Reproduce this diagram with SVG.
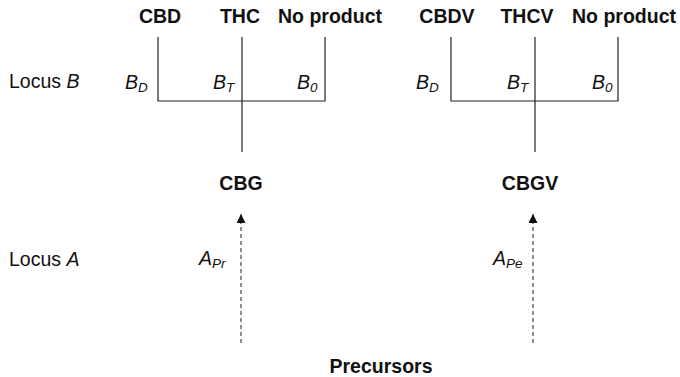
<svg xmlns="http://www.w3.org/2000/svg" width="680" height="377" viewBox="0 0 680 377">
<defs>
<style>
.t{font-family:"Liberation Sans",Arial,sans-serif;font-size:19.5px;fill:#111}
.b{font-weight:bold}
.i{font-style:italic}
.sub{font-size:13.5px;font-style:italic}
.ln{stroke:#222;stroke-width:1.2;fill:none}
.ds{stroke:#444;stroke-width:1.2;stroke-dasharray:4,3;fill:none}
</style>
<marker id="ah" viewBox="0 0 10 10" refX="10" refY="5" markerWidth="10" markerHeight="9" markerUnits="userSpaceOnUse" orient="auto">
<path d="M0,0 L10,5 L0,10 Z" fill="#111"/>
</marker>
</defs>
<rect width="680" height="377" fill="#fff"/>
<g id="labels">
<text class="t" x="9" y="88">Locus <tspan class="i">B</tspan></text>
<text class="t" x="9" y="266">Locus <tspan class="i">A</tspan></text>
</g>
<g id="cbd"><text class="t b" x="160" y="23" text-anchor="middle">CBD</text></g>
<g id="thc"><text class="t b" x="240" y="23" text-anchor="middle">THC</text></g>
<g id="noproduct1"><text class="t b" x="330" y="23" text-anchor="middle">No product</text></g>
<g id="cbdv"><text class="t b" x="447" y="23" text-anchor="middle">CBDV</text></g>
<g id="thcv"><text class="t b" x="527" y="23" text-anchor="middle">THCV</text></g>
<g id="noproduct2"><text class="t b" x="624" y="23" text-anchor="middle">No product</text></g>
<g id="cbg"><text class="t b" x="241" y="190" text-anchor="middle">CBG</text></g>
<g id="cbgv"><text class="t b" x="530" y="190" text-anchor="middle">CBGV</text></g>
<g id="precursors"><text class="t b" x="381" y="373" text-anchor="middle">Precursors</text></g>
<g id="connectors">
<path class="ln" d="M158,37 V101 H325 V37 M242,37 V152"/>
<path class="ln" d="M451,37 V101 H618 V37 M535,37 V152"/>
<line class="ds" x1="241" y1="343" x2="241" y2="214" marker-end="url(#ah)"/>
<line class="ds" x1="533" y1="343" x2="533" y2="214" marker-end="url(#ah)"/>
</g>
<g id="allele-labels">
<text class="t i" x="125" y="89">B<tspan class="sub" dy="3">D</tspan></text>
<text class="t i" x="213" y="89">B<tspan class="sub" dy="3">T</tspan></text>
<text class="t i" x="297" y="89">B<tspan class="sub" dy="3">0</tspan></text>
<text class="t i" x="416" y="89">B<tspan class="sub" dy="3">D</tspan></text>
<text class="t i" x="507" y="89">B<tspan class="sub" dy="3">T</tspan></text>
<text class="t i" x="592" y="89">B<tspan class="sub" dy="3">0</tspan></text>
<text class="t i" x="199" y="265">A<tspan class="sub" dy="3">Pr</tspan></text>
<text class="t i" x="493" y="265">A<tspan class="sub" dy="3">Pe</tspan></text>
</g>
</svg>
